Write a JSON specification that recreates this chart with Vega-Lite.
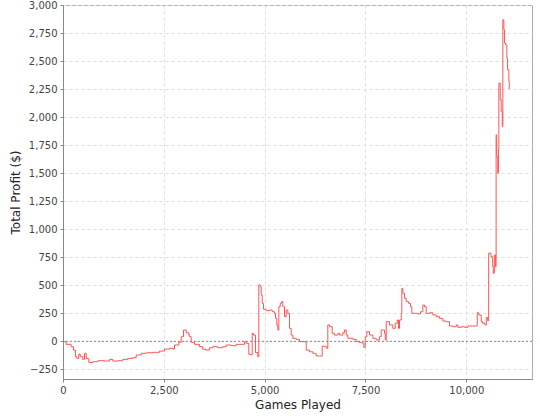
{
  "$schema": "https://vega.github.io/schema/vega-lite/v6.json",
  "width": 469,
  "height": 374,
  "autosize": {"type": "none"},
  "padding": {"left": 63, "top": 5, "right": 8, "bottom": 41},
  "background": "white",
  "config": {
    "view": {"stroke": "#aaaaaa", "strokeWidth": 1},
    "axis": {
      "labelFont": "DejaVu Sans",
      "labelFontSize": 10,
      "labelColor": "#444444",
      "labelOverlap": false,
      "titleFont": "DejaVu Sans",
      "titleFontSize": 12,
      "titleFontWeight": "normal",
      "titleColor": "#222222",
      "domainColor": "#888888",
      "tickColor": "#888888",
      "tickSize": 3,
      "grid": true,
      "gridColor": "#dddddd",
      "gridDash": [3, 3],
      "gridWidth": 1
    }
  },
  "data": {
    "values": [
      {"g": 0, "p": 0}, {"g": 12, "p": -3}, {"g": 79, "p": -27}, {"g": 203, "p": -48}, {"g": 260, "p": -78},
      {"g": 310, "p": -137}, {"g": 342, "p": -152}, {"g": 392, "p": -113}, {"g": 427, "p": -137}, {"g": 491, "p": -161},
      {"g": 533, "p": -107}, {"g": 575, "p": -152}, {"g": 640, "p": -188}, {"g": 739, "p": -182}, {"g": 863, "p": -173},
      {"g": 1029, "p": -176}, {"g": 1153, "p": -161}, {"g": 1235, "p": -176}, {"g": 1359, "p": -173}, {"g": 1483, "p": -161},
      {"g": 1607, "p": -152}, {"g": 1731, "p": -146}, {"g": 1815, "p": -122}, {"g": 1939, "p": -107}, {"g": 2063, "p": -102},
      {"g": 2227, "p": -98}, {"g": 2393, "p": -87}, {"g": 2517, "p": -69}, {"g": 2641, "p": -63}, {"g": 2723, "p": -69},
      {"g": 2765, "p": -33}, {"g": 2872, "p": -9}, {"g": 2931, "p": 41}, {"g": 2988, "p": 101}, {"g": 3055, "p": 77},
      {"g": 3120, "p": 56}, {"g": 3137, "p": 41}, {"g": 3179, "p": -9}, {"g": 3261, "p": -27}, {"g": 3385, "p": -48},
      {"g": 3467, "p": -71}, {"g": 3551, "p": -78}, {"g": 3633, "p": -57}, {"g": 3715, "p": -48}, {"g": 3839, "p": -57},
      {"g": 3963, "p": -48}, {"g": 4047, "p": -33}, {"g": 4171, "p": -39}, {"g": 4295, "p": -27}, {"g": 4419, "p": -27},
      {"g": 4501, "p": -3}, {"g": 4543, "p": -18}, {"g": 4608, "p": -116}, {"g": 4667, "p": -122}, {"g": 4692, "p": 71},
      {"g": 4724, "p": 56}, {"g": 4774, "p": -100}, {"g": 4831, "p": -137}, {"g": 4856, "p": 503}, {"g": 4891, "p": 488},
      {"g": 4915, "p": 413}, {"g": 4940, "p": 339}, {"g": 4972, "p": 286}, {"g": 5039, "p": 273}, {"g": 5121, "p": 279},
      {"g": 5188, "p": 264}, {"g": 5245, "p": 250}, {"g": 5270, "p": 205}, {"g": 5302, "p": 146}, {"g": 5327, "p": 101},
      {"g": 5352, "p": 309}, {"g": 5387, "p": 339}, {"g": 5419, "p": 354}, {"g": 5451, "p": 309}, {"g": 5493, "p": 220},
      {"g": 5535, "p": 279}, {"g": 5575, "p": 250}, {"g": 5617, "p": 116}, {"g": 5659, "p": 56}, {"g": 5699, "p": 27},
      {"g": 5783, "p": 18}, {"g": 5865, "p": -3}, {"g": 5947, "p": -3}, {"g": 6031, "p": -78}, {"g": 6113, "p": -93},
      {"g": 6195, "p": -107}, {"g": 6279, "p": -131}, {"g": 6361, "p": -131}, {"g": 6428, "p": -42}, {"g": 6485, "p": -48},
      {"g": 6542, "p": -63}, {"g": 6567, "p": 146}, {"g": 6609, "p": 130}, {"g": 6676, "p": 71}, {"g": 6733, "p": 56},
      {"g": 6815, "p": 71}, {"g": 6857, "p": 56}, {"g": 6939, "p": 77}, {"g": 6981, "p": 101}, {"g": 7023, "p": 56},
      {"g": 7063, "p": 27}, {"g": 7187, "p": 18}, {"g": 7271, "p": -3}, {"g": 7353, "p": -12}, {"g": 7435, "p": -18},
      {"g": 7460, "p": -54}, {"g": 7495, "p": 41}, {"g": 7534, "p": 86}, {"g": 7601, "p": 56}, {"g": 7683, "p": 27},
      {"g": 7767, "p": 12}, {"g": 7849, "p": 41}, {"g": 7891, "p": 101}, {"g": 7973, "p": 71}, {"g": 7991, "p": 12},
      {"g": 8015, "p": 175}, {"g": 8097, "p": 146}, {"g": 8179, "p": 116}, {"g": 8239, "p": 161}, {"g": 8288, "p": 190},
      {"g": 8320, "p": 116}, {"g": 8345, "p": 190}, {"g": 8387, "p": 250}, {"g": 8402, "p": 473}, {"g": 8427, "p": 429},
      {"g": 8469, "p": 384}, {"g": 8511, "p": 354}, {"g": 8568, "p": 339}, {"g": 8618, "p": 309}, {"g": 8650, "p": 250},
      {"g": 8717, "p": 250}, {"g": 8799, "p": 244}, {"g": 8866, "p": 264}, {"g": 8923, "p": 324}, {"g": 8965, "p": 309},
      {"g": 9007, "p": 250}, {"g": 9089, "p": 255}, {"g": 9171, "p": 235}, {"g": 9255, "p": 220}, {"g": 9337, "p": 205},
      {"g": 9419, "p": 181}, {"g": 9503, "p": 175}, {"g": 9585, "p": 137}, {"g": 9667, "p": 130}, {"g": 9751, "p": 146},
      {"g": 9791, "p": 125}, {"g": 9875, "p": 130}, {"g": 9957, "p": 125}, {"g": 10039, "p": 137}, {"g": 10163, "p": 137},
      {"g": 10247, "p": 137}, {"g": 10272, "p": 255}, {"g": 10312, "p": 235}, {"g": 10371, "p": 175}, {"g": 10405, "p": 161},
      {"g": 10465, "p": 146}, {"g": 10497, "p": 214}, {"g": 10530, "p": 184}, {"g": 10555, "p": 786}, {"g": 10614, "p": 756},
      {"g": 10654, "p": 666}, {"g": 10671, "p": 607}, {"g": 10696, "p": 770}, {"g": 10723, "p": 666}, {"g": 10740, "p": 1842},
      {"g": 10755, "p": 1648}, {"g": 10780, "p": 1500}, {"g": 10800, "p": 1708}, {"g": 10808, "p": 2304}, {"g": 10843, "p": 2155},
      {"g": 10867, "p": 2050}, {"g": 10892, "p": 1916}, {"g": 10907, "p": 2869}, {"g": 10932, "p": 2780}, {"g": 10949, "p": 2661},
      {"g": 10974, "p": 2646}, {"g": 11006, "p": 2527}, {"g": 11024, "p": 2423}, {"g": 11056, "p": 2318}, {"g": 11066, "p": 2250}
    ]
  },
  "encoding": {
    "y": {
      "field": "p", "type": "quantitative", "title": "Total Profit ($)",
      "scale": {"domain": [-336, 3000], "nice": false, "zero": false},
      "axis": {"values": [-250, 0, 250, 500, 750, 1000, 1250, 1500, 1750, 2000, 2250, 2500, 2750, 3000], "format": ",.0f", "titlePadding": 6, "labelPadding": 3, "grid": true, "labelOverlap": false, "labelFlush": false, "labelBound": false, "labelSeparation": 0}
    }
  },
  "layer": [
    {
      "mark": {"type": "line", "color": "#ff5555", "strokeWidth": 1, "interpolate": "step-after", "clip": true},
      "encoding": {
        "x": {
          "field": "g", "type": "quantitative", "title": "Games Played",
          "scale": {"domain": [0, 11630], "nice": false, "zero": false},
          "axis": {"values": [0, 2500, 5000, 7500, 10000], "format": ",.0f", "titlePadding": 4, "labelPadding": 3, "grid": true, "labelOverlap": false, "labelFlush": false, "labelBound": false}
        }
      }
    },
    {
      "transform": [{"filter": "datum.g == 0"}],
      "mark": {"type": "rule", "color": "#8080c0", "strokeDash": [2, 2], "strokeWidth": 1},
      "encoding": {"y": {"field": "p", "type": "quantitative"}}
    }
  ]
}
